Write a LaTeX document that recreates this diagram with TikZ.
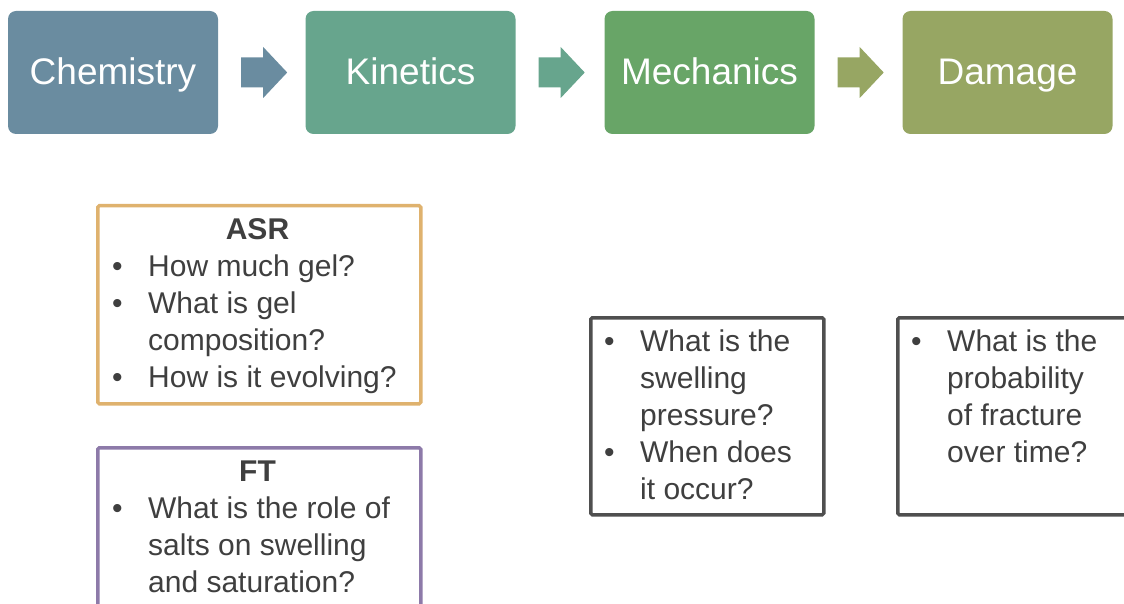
\documentclass[tikz,border=0pt]{standalone}
\usepackage{fontspec}
\setmainfont{Liberation Sans}
\usetikzlibrary{calc}
\definecolor{cchem}{HTML}{6A8CA0}
\definecolor{ckin}{HTML}{67A58D}
\definecolor{cmech}{HTML}{68A567}
\definecolor{cdam}{HTML}{97A663}
\definecolor{casr}{HTML}{DFB26E}
\definecolor{cft}{HTML}{8D7AA9}
\definecolor{cbox}{HTML}{4F4F4F}
\definecolor{ctext}{HTML}{3F3F3F}
\newcommand{\bul}{\hangindent=37pt\hangafter=1\makebox[37pt][l]{\hspace{1pt}•}}
\newcommand{\qlist}[1]{\parbox[t]{330pt}{\fontsize{30}{37}\selectfont\raggedright\parindent=0pt\parskip=0pt #1}}
\tikzset{
  topbox/.style={rounded corners=8pt, minimum width=210pt, minimum height=123pt,
    text=white, font=\fontsize{37}{44}\selectfont, inner sep=0pt,
    text height=30pt, text depth=6pt},
  qbox/.style={line width=3.5pt, fill=white, rounded corners=1.5pt, anchor=north west},
  qtext/.style={text=ctext, inner sep=0pt, anchor=base west},
  qtitle/.style={text=ctext, inner sep=0pt, anchor=base, font=\fontsize{30}{37}\selectfont\bfseries},
}
\begin{document}
\begin{tikzpicture}[x=1pt,y=-1pt]
\useasboundingbox (0,0) rectangle (1124,604);
\clip (0,0) rectangle (1124,604);
% top row
\node[topbox, fill=cchem] (chem) at (113,72.5) {Chemistry};
\node[topbox, fill=ckin] (kin) at (410.5,72.5) {Kinetics};
\node[topbox, fill=cmech] (mech) at (709.5,72.5) {Mechanics};
\node[topbox, fill=cdam] (dam) at (1007.5,72.5) {Damage};
% block arrows
\foreach \a/\c in {chem/cchem, kin/ckin, mech/cdam}{
  \fill[\c] ($(\a.east)+(23,-15)$) -- ($(\a.east)+(45,-15)$) -- ($(\a.east)+(45,-25.5)$)
    -- ($(\a.east)+(69,0)$) -- ($(\a.east)+(45,25.5)$) -- ($(\a.east)+(45,15)$)
    -- ($(\a.east)+(23,15)$) -- cycle;
}
% question boxes
\node[qbox, draw=casr, minimum width=323pt, minimum height=198pt] (asr) at (96,204) {};
\node[qtitle] (asrt) at (257.5,239) {ASR};
\node[qtext] (asrl) at (111,276) {\qlist{\bul How much gel?\par
  \bul What is gel\newline composition?\par
  \bul How is it evolving?}};

\node[qbox, draw=cft, minimum width=323pt, minimum height=220pt] (ft) at (96,446) {};
\node[qtitle] (ftt) at (257.5,481) {FT};
\node[qtext] (ftl) at (111,518) {\qlist{\bul What is the role of\newline salts on swelling\newline and saturation?}};

\node[qbox, draw=cbox, minimum width=233pt, minimum height=197pt] (mq) at (589,316) {};
\node[qtext] (mql) at (603,351) {\qlist{\bul What is the\newline swelling\newline pressure?\par
  \bul When does\newline it occur?}};

\node[qbox, draw=cbox, minimum width=260pt, minimum height=197pt] (dq) at (896,316) {};
\node[qtext] (dql) at (910,351) {\qlist{\bul What is the\newline probability\newline of fracture\newline over time?}};
\end{tikzpicture}
\end{document}
